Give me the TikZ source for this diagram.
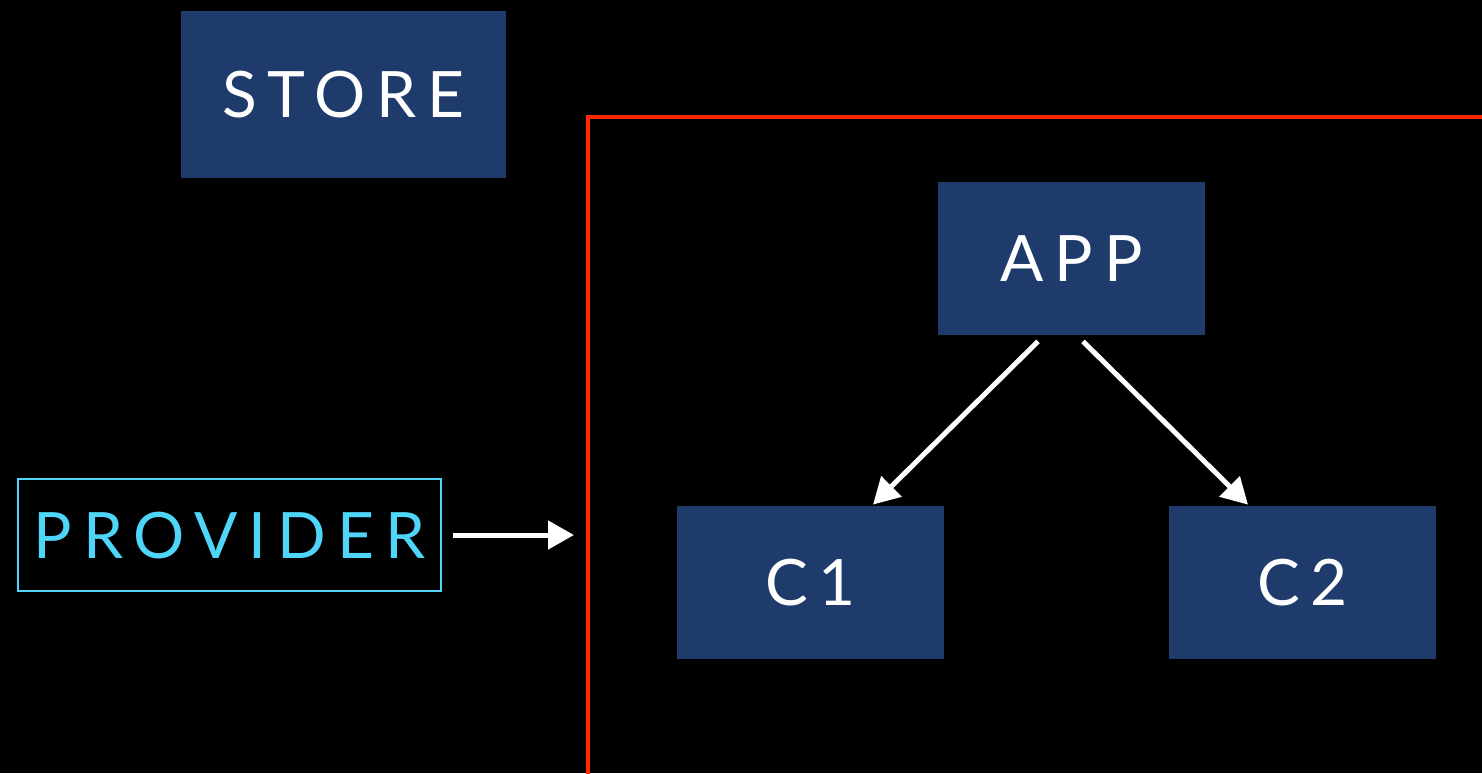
\documentclass[tikz,border=0pt]{standalone}
\usepackage{fontspec}
\usetikzlibrary{arrows.meta}
\newfontfamily\boxfont[LetterSpace=17]{Lato}
\definecolor{boxblue}{HTML}{1F3B6B}
\definecolor{provcyan}{HTML}{4FD5F8}
\definecolor{framered}{HTML}{FF2A00}
\tikzset{
  bluebox/.style={fill=boxblue, draw=none, text=white, inner sep=0pt, font=\boxfont\fontsize{32}{32}\selectfont, text height=23pt, text depth=0pt},
  provbox/.style={draw=provcyan, line width=1pt, text=provcyan, inner sep=0pt, font=\boxfont\fontsize{32}{32}\selectfont, text height=23pt, text depth=0pt},
  arr/.style={draw=white, line width=2.5pt, -{Triangle[length=13pt,width=14pt]}},
}
\begin{document}
\begin{tikzpicture}[x=0.5pt,y=-0.5pt]
\fill[black] (0,0) rectangle (1482,773);
\useasboundingbox (0,0) rectangle (1482,773);
\begin{scope}
\clip (0,0) rectangle (1482,773);
\draw[framered, line width=2.2pt] (588,790) -- (588,117) -- (1500,117);
\end{scope}
\node[bluebox, minimum width=162.5pt, minimum height=83.5pt] (store) at (343.5,94.5) {STORE};
\node[provbox, minimum width=211.5pt, minimum height=56pt] (provider) at (229.5,535) {PROVIDER};
\node[bluebox, minimum width=133.5pt, minimum height=76.5pt] (app) at (1071.5,258.5) {APP};
\node[bluebox, minimum width=133.5pt, minimum height=76.5pt] (c1) at (810.5,582.5) {C1};
\node[bluebox, minimum width=133.5pt, minimum height=76.5pt] (c2) at (1302.5,582.5) {C2};
\coordinate (frameentry) at (574,535);
\draw[arr] ([xshift=5.5pt]provider.east) -- (frameentry);
\draw[arr] ([xshift=-16.75pt,yshift=-3pt]app.south) -- ([xshift=31.25pt,yshift=0.5pt]c1.north);
\draw[arr] ([xshift=5.75pt,yshift=-3pt]app.south) -- ([xshift=-27.25pt,yshift=0.5pt]c2.north);
\end{tikzpicture}
\end{document}
